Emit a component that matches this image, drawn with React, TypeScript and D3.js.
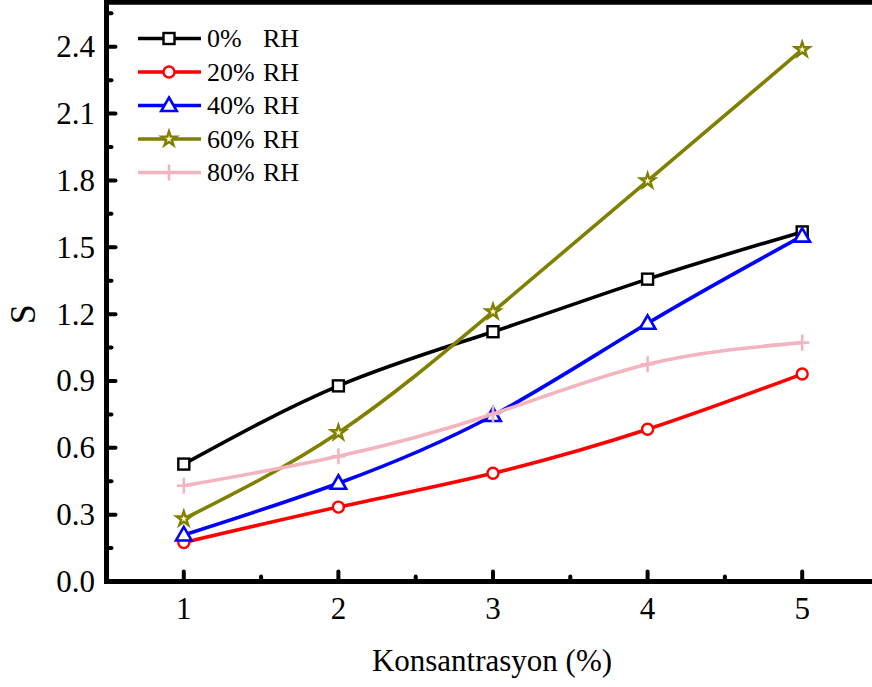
import React from "react";
import * as d3 from "d3";

const concentrations = [1, 2, 3, 4, 5];
const seriesNames = ["0%", "20%", "40%", "60%", "80%"];
const rh0 = [0.527, 0.878, 1.121, 1.357, 1.569];
const rh20 = [0.175, 0.334, 0.486, 0.683, 0.931];
const rh40 = [0.209, 0.441, 0.745, 1.159, 1.55];
const rh60 = [0.281, 0.668, 1.211, 1.798, 2.387];
const rh80 = [0.43, 0.562, 0.752, 0.975, 1.072];
const yTicks = [0, 0.3, 0.6, 0.9, 1.2, 1.5, 1.8, 2.1, 2.4];
const xTicks = [1, 2, 3, 4, 5];

const W = 872;
const H = 687;

const series = [
  { name: seriesNames[0], values: rh0, color: "#000000", marker: "square" },
  { name: seriesNames[1], values: rh20, color: "#ff0000", marker: "circle" },
  { name: seriesNames[2], values: rh40, color: "#0000ff", marker: "triangle" },
  { name: seriesNames[3], values: rh60, color: "#808000", marker: "star" },
  { name: seriesNames[4], values: rh80, color: "#f2b5c0", marker: "plus" },
];

const x = d3.scaleLinear().domain([0.5, 5.5]).range([106.5, 879.5]);
const y = d3.scaleLinear().domain([0, 2.6]).range([581.5, 2.2]);

function Marker({ type, cx, cy, color }: { type: string; cx: number; cy: number; color: string }) {
  if (type === "square") {
    return <rect x={cx - 5.5} y={cy - 5.5} width={11} height={11} fill="#fff" stroke={color} strokeWidth={2.4} />;
  }
  if (type === "circle") {
    return <circle cx={cx} cy={cy} r={5.5} fill="#fff" stroke={color} strokeWidth={2.4} />;
  }
  if (type === "triangle") {
    const p = d3.symbol(d3.symbolTriangle, 105)();
    return <path d={p || ""} transform={`translate(${cx},${cy + 1})`} fill="#fff" stroke={color} strokeWidth={2.6} />;
  }
  if (type === "star") {
    const p = d3.symbol(d3.symbolStar, 65)();
    return <path d={p || ""} transform={`translate(${cx},${cy})`} fill="#fffbd0" stroke={color} strokeWidth={2.4} />;
  }
  return (
    <g stroke={color} strokeWidth={2.6}>
      <line x1={cx - 7} x2={cx + 7} y1={cy} y2={cy} />
      <line x1={cx} x2={cx} y1={cy - 8} y2={cy + 8} />
    </g>
  );
}

export default function App() {
  const line = d3
    .line<number>()
    .x((_, i) => x(concentrations[i]))
    .y((d) => y(d))
    .curve(d3.curveNatural);

  const yMinor = d3.range(0.15, 2.6, 0.3);
  const xMinor = [1.5, 2.5, 3.5, 4.5];
  const font = "'Liberation Serif', 'Times New Roman', serif";
  const legendRows = [38.5, 72, 105.5, 139, 172.5];

  return (
    <svg width={W} height={H} style={{ position: "absolute", left: 0, top: 0, background: "#fff" }} fontFamily={font}>
      <rect x={0} y={0} width={W} height={H} fill="#fff" />
      {/* series */}
      {series.map((s) => (
        <g key={s.name}>
          <path d={line(s.values) || ""} fill="none" stroke={s.color} strokeWidth={3.6} />
          {s.values.map((v, i) => (
            <Marker key={i} type={s.marker} cx={x(concentrations[i])} cy={y(v)} color={s.color} />
          ))}
        </g>
      ))}
      {/* frame */}
      <g stroke="#000" strokeWidth={5} fill="none">
        <line x1={x(0.5)} x2={x(0.5)} y1={0} y2={y(0) + 2.5} />
        <line x1={x(0.5) - 2.5} x2={W} y1={y(0)} y2={y(0)} />
        <line x1={x(0.5) - 2.5} x2={W} y1={y(2.6)} y2={y(2.6)} />
      </g>
      {/* ticks */}
      <g stroke="#000" strokeWidth={4} strokeLinecap="round">
        {yTicks.map((t) => (
          <line key={t} x1={x(0.5)} x2={x(0.5) + 9} y1={y(t)} y2={y(t)} />
        ))}
        {yMinor.map((t) => (
          <line key={"m" + t} x1={x(0.5)} x2={x(0.5) + 5} y1={y(t)} y2={y(t)} />
        ))}
        {xTicks.map((t) => (
          <line key={"x" + t} x1={x(t)} x2={x(t)} y1={y(0)} y2={y(0) - 10} />
        ))}
        {xMinor.map((t) => (
          <line key={"xm" + t} x1={x(t)} x2={x(t)} y1={y(0)} y2={y(0) - 5} />
        ))}
      </g>
      {/* tick labels */}
      <g fontSize={31} fill="#000">
        {yTicks.map((t) => (
          <text key={t} x={95} y={y(t)} textAnchor="end" dominantBaseline="central">
            {d3.format(".1f")(t)}
          </text>
        ))}
        {xTicks.map((t) => (
          <text key={t} x={x(t)} y={619} textAnchor="middle">
            {t}
          </text>
        ))}
      </g>
      <text x={492} y={671} textAnchor="middle" fontSize={31}>
        Konsantrasyon (%)
      </text>
      <text transform={`translate(35,${y(1.2)}) rotate(-90)`} textAnchor="middle" fontSize={36}>
        S
      </text>
      {/* legend */}
      {series.map((s, i) => (
        <g key={"lg" + s.name}>
          <line x1={138} x2={201} y1={legendRows[i]} y2={legendRows[i]} stroke={s.color} strokeWidth={3.6} />
          <Marker type={s.marker} cx={169} cy={legendRows[i]} color={s.color} />
          <text x={207} y={legendRows[i]} dominantBaseline="central" fontSize={26}>
            {s.name}
          </text>
          <text x={263} y={legendRows[i]} dominantBaseline="central" fontSize={26}>
            RH
          </text>
        </g>
      ))}
    </svg>
  );
}
